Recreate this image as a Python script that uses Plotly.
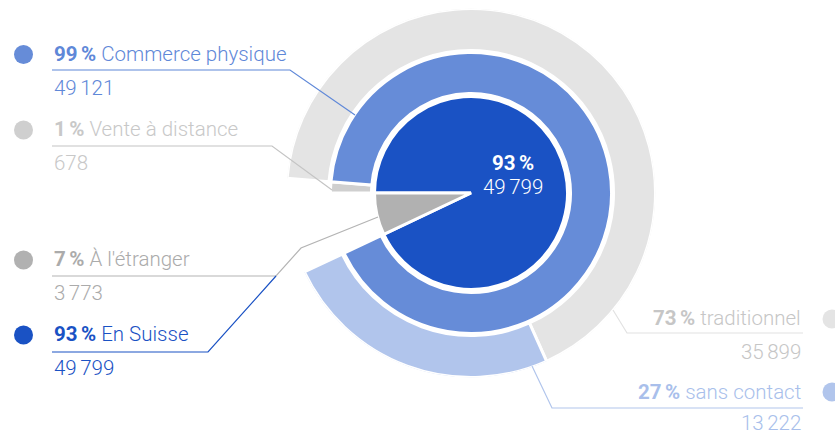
import plotly.graph_objects as go

# ---- data -------------------------------------------------------------
regions = ["En Suisse", "À l'étranger"]
region_values = [49799, 3773]

channels = ["Vente à distance", "Commerce physique"]
channel_values = [678, 49121]

payments = ["traditionnel", "sans contact"]
payment_values = [35899, 13222]

# ---- styling ----------------------------------------------------------
W, H = 835, 435
CX, CY = 471, 193            # centre of the rings, in pixels
FONT = "Roboto"
SIZE = 20.5
NARROW = "\u2006"            # small gap for thousands and before %

fill = {
    "En Suisse": "#1a52c4",
    "À l'étranger": "#b1b1b1",
    "Commerce physique": "#668cd8",
    "Vente à distance": "#cfcfcf",
    "traditionnel": "#e4e4e4",
    "sans contact": "#b1c5ec",
}
ink = {
    "En Suisse": "#1a52c4",
    "À l'étranger": "#ababab",
    "Commerce physique": "#5f88d8",
    "Vente à distance": "#c8c8c8",
    "traditionnel": "#c6c6c6",
    "sans contact": "#a9bfeb",
}
line_col = {
    "En Suisse": "#1a52c4",
    "À l'étranger": "#b4b4b4",
    "Commerce physique": "#5f88d8",
    "Vente à distance": "#c4c4c4",
    "traditionnel": "#e2e2e2",
    "sans contact": "#b1c5ec",
}

# ring radii in pixels (colored area + half of the white outline)
RINGS = {
    "inner": (0.0, 96.5),
    "middle": (99.5, 140.5),
    "outer": (142.5, 184.5),
}
R_MAX = RINGS["outer"][1]

grand_total = sum(region_values)
DEG = 360.0 / grand_total


def sectors(values, start):
    """Angular centres and widths (degrees) of consecutive slices."""
    thetas, widths = [], []
    a = start
    for v in values:
        w = v * DEG
        thetas.append(a + w / 2)
        widths.append(w)
        a += w
    return thetas, widths


def pct(v, group):
    return round(100 * v / sum(group))


def fmt(v):
    return f"{v:,}".replace(",", NARROW)


fig = go.Figure()

# inner pie: regions, starting at the left (west) and running clockwise
th_r, w_r = sectors(region_values, 0.0)
# middle ring: channels inside "En Suisse"
th_c, w_c = sectors(channel_values, 0.0)
# outer ring: payment types inside "Commerce physique"
th_p, w_p = sectors(payment_values, channel_values[0] * DEG)

for ring, names, th, wd in [
    ("inner", regions, th_r, w_r),
    ("middle", channels, th_c, w_c),
    ("outer", payments, th_p, w_p),
]:
    r0, r1 = RINGS[ring]
    fig.add_trace(go.Barpolar(
        theta=th,
        width=wd,
        base=[r0] * len(names),
        r=[r1 - r0] * len(names),
        text=names,
        marker=dict(color=[fill[n] for n in names],
                    line=dict(color="white", width=3)),
        hoverinfo="text",
        showlegend=False,
    ))


def px(x, y):
    return x / W, 1 - y / H


x0, x1 = px(CX - R_MAX, CY)[0], px(CX + R_MAX, CY)[0]
y0, y1 = px(CX, CY + R_MAX)[1], px(CX, CY - R_MAX)[1]

fig.update_layout(
    width=W, height=H,
    margin=dict(l=0, r=0, t=0, b=0),
    paper_bgcolor="white",
    plot_bgcolor="white",
    polar=dict(
        domain=dict(x=[x0, x1], y=[y0, y1]),
        bgcolor="white",
        hole=0,
        radialaxis=dict(visible=False, range=[0, R_MAX]),
        angularaxis=dict(visible=False, rotation=180, direction="clockwise"),
    ),
    font=dict(family=FONT),
)

# ---- labels -----------------------------------------------------------
share = {}
for names, vals in [(regions, region_values), (channels, channel_values),
                    (payments, payment_values)]:
    for n, v in zip(names, vals):
        share[n] = (pct(v, vals), v)

# (name, side, label y, number y, dot y, leader path)
label_specs = [
    ("Commerce physique", "left", 54, 88, 54.5,
     [(52, 70), (290, 70), (355, 115)]),
    ("Vente à distance", "left", 129, 163, 130,
     [(52, 146), (272, 146), (332, 190)]),
    ("À l'étranger", "left", 259, 293, 260,
     [(52, 276), (276, 276), (301, 248), (378, 217)]),
    ("En Suisse", "left", 334, 368, 335,
     [(52, 352), (208, 352), (276, 276)]),
    ("traditionnel", "right", 318, 352, 319,
     [(803, 333), (627, 333), (613, 310)]),
    ("sans contact", "right", 392, 423, 392,
     [(803, 408), (552, 408), (532, 366)]),
]

shapes = []
annotations = []
for name, side, ly, ny, dy, path in label_specs:
    p, v = share[name]
    tx = 52 if side == "left" else 803
    anchor = "left" if side == "left" else "right"
    dot_x = 23.5 if side == "left" else 832
    annotations.append(dict(
        x=px(tx, ly)[0], y=px(tx, ly)[1], xref="paper", yref="paper",
        xanchor=anchor, yanchor="middle", showarrow=False,
        text=f"<b>{p}{NARROW}%</b> {name}",
        font=dict(family=FONT, size=SIZE, color=ink[name], weight=300),
    ))
    annotations.append(dict(
        x=px(tx, ny)[0], y=px(tx, ny)[1], xref="paper", yref="paper",
        xanchor=anchor, yanchor="middle", showarrow=False,
        text=fmt(v),
        font=dict(family=FONT, size=SIZE, color=ink[name], weight=300),
    ))
    dx, dyy = px(dot_x, dy)
    shapes.append(dict(
        type="circle", xref="paper", yref="paper",
        xsizemode="pixel", ysizemode="pixel",
        xanchor=dx, yanchor=dyy, x0=-9.5, x1=9.5, y0=-9.5, y1=9.5,
        fillcolor=fill[name], line=dict(width=0),
    ))
    d = ""
    for i, (x, y) in enumerate(path):
        X, Y = px(x, y)
        d += ("M" if i == 0 else "L") + f"{X},{Y}"
    shapes.append(dict(
        type="path", xref="paper", yref="paper", path=d,
        line=dict(color=line_col[name], width=1.2),
    ))

# centre value of the main slice
main_p, main_v = share[regions[0]]
annotations.append(dict(
    x=px(513, 163)[0], y=px(513, 163)[1], xref="paper", yref="paper",
    xanchor="center", yanchor="middle", showarrow=False,
    text=f"<b>{main_p}{NARROW}%</b>",
    font=dict(family=FONT, size=SIZE, color="white"),
))
annotations.append(dict(
    x=px(513, 187)[0], y=px(513, 187)[1], xref="paper", yref="paper",
    xanchor="center", yanchor="middle", showarrow=False,
    text=fmt(main_v),
    font=dict(family=FONT, size=SIZE, color="white", weight=300),
))

fig.update_layout(shapes=shapes, annotations=annotations)

fig.write_html("out.html")
